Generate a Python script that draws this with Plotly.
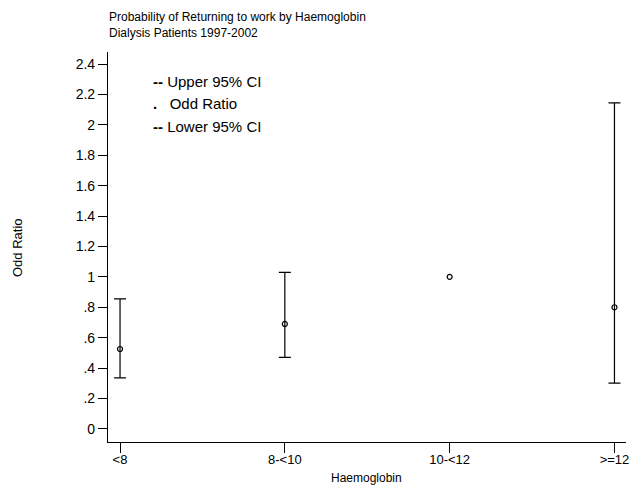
import plotly.graph_objects as go

# Haemoglobin groups and odds ratios of returning to work (10-<12 is the reference)
categories = ["<8", "8-<10", "10-<12", ">=12"]
odds_ratio = [0.525, 0.69, 1.0, 0.80]
upper_ci = [0.855, 1.03, None, 2.145]
lower_ci = [0.335, 0.47, None, 0.30]

y_tickvals = [0, 0.2, 0.4, 0.6, 0.8, 1, 1.2, 1.4, 1.6, 1.8, 2, 2.2, 2.4]
y_ticktext = ["0", ".2", ".4", ".6", ".8", "1", "1.2", "1.4", "1.6", "1.8", "2", "2.2", "2.4"]

x_pos = list(range(len(categories)))

# only groups with a confidence interval get an error bar
ci_idx = [i for i, u in enumerate(upper_ci) if u is not None]
ci_x = [x_pos[i] for i in ci_idx]
ci_y = [odds_ratio[i] for i in ci_idx]
err_plus = [upper_ci[i] - odds_ratio[i] for i in ci_idx]
err_minus = [odds_ratio[i] - lower_ci[i] for i in ci_idx]

W, H = 640, 488
ml, mr, mt, mb = 108, 14, 52, 46
pw, ph = W - ml - mr, H - mt - mb

def px(x):
    return (x - ml) / pw

def py(y):
    return (H - mb - y) / ph

font = "Liberation Sans, Arial, sans-serif"

fig = go.Figure()
fig.add_trace(go.Scatter(
    x=ci_x, y=ci_y, mode="none",
    error_y=dict(type="data", symmetric=False, array=err_plus, arrayminus=err_minus,
                 color="black", thickness=1.2, width=6),
    showlegend=False, hoverinfo="skip",
))
fig.add_trace(go.Scatter(
    x=x_pos, y=odds_ratio, mode="markers",
    marker=dict(symbol="circle-open", size=5, color="black", line=dict(width=1.2, color="black")),
    showlegend=False, hoverinfo="skip",
))

annotations = [
    dict(text="Probability of Returning to work by Haemoglobin<br>Dialysis Patients 1997-2002",
         xref="paper", yref="paper", x=px(107), y=py(8), xanchor="left", yanchor="top",
         align="left", showarrow=False, font=dict(family=font, size=12, color="black")),
    dict(text="<b>--</b> Upper 95% CI", xref="paper", yref="paper", x=px(151), y=py(82),
         xanchor="left", yanchor="middle", showarrow=False,
         font=dict(family=font, size=15, color="black")),
    dict(text="<b>.</b>   Odd Ratio", xref="paper", yref="paper", x=px(151), y=py(104),
         xanchor="left", yanchor="middle", showarrow=False,
         font=dict(family=font, size=15, color="black")),
    dict(text="<b>--</b> Lower 95% CI", xref="paper", yref="paper", x=px(151), y=py(126),
         xanchor="left", yanchor="middle", showarrow=False,
         font=dict(family=font, size=15, color="black")),
    dict(text="Odd Ratio", xref="paper", yref="paper", x=px(17), y=py(248),
         xanchor="center", yanchor="middle", textangle=-90, showarrow=False,
         font=dict(family=font, size=13, color="black")),
    dict(text="Haemoglobin", xref="paper", yref="paper", x=px(366), y=py(478),
         xanchor="center", yanchor="middle", showarrow=False,
         font=dict(family=font, size=12, color="black")),
]

fig.update_layout(
    width=W, height=H,
    margin=dict(l=ml, r=mr, t=mt, b=mb, pad=0),
    paper_bgcolor="white", plot_bgcolor="white",
    font=dict(family=font, size=13, color="black"),
    annotations=annotations,
    xaxis=dict(range=[-0.073, 3.07], tickvals=x_pos, ticktext=categories,
               showgrid=False, zeroline=False, showline=True, linecolor="black", linewidth=1.2,
               ticks="outside", ticklen=10, tickwidth=1.2, tickcolor="black",
               ticklabelstandoff=-5,
               tickfont=dict(family=font, size=13, color="black")),
    yaxis=dict(range=[-0.087, 2.48], tickvals=y_tickvals, ticktext=y_ticktext,
               showgrid=False, zeroline=False, showline=True, linecolor="black", linewidth=1.2,
               ticks="outside", ticklen=9, tickwidth=1.2, tickcolor="black",
               tickfont=dict(family=font, size=14, color="black")),
)

fig.write_html("out.html")
